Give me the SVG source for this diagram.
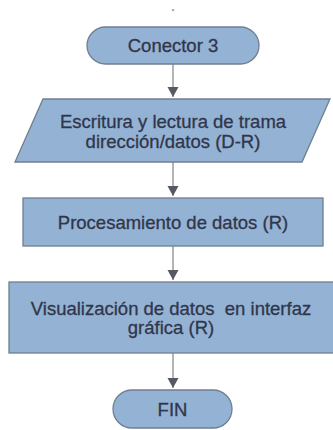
<svg xmlns="http://www.w3.org/2000/svg" width="333" height="430" viewBox="0 0 333 430">
<defs>
<marker id="ah" markerUnits="userSpaceOnUse" markerWidth="12" markerHeight="12" refX="10" refY="6" orient="auto">
<path d="M0,0.5 L10,6 L0,11.5 Z" fill="#555a60"/>
</marker>
<style>
.shape{fill:#94b2d4;stroke:#6f7f90;stroke-width:1.3}
.lbl{font-family:"Liberation Sans",Arial,sans-serif;font-size:18.5px;fill:#30364a;stroke:#30364a;stroke-width:0.3;text-anchor:middle}
.conn{stroke:#b4b4b4;stroke-width:2;fill:none}
</style>
</defs>
<rect width="333" height="430" fill="#ffffff"/>
<rect x="172" y="9" width="2.2" height="2.2" fill="#b0b0b0"/>
<g id="connectors">
<line class="conn" x1="173" y1="64" x2="173" y2="97" marker-end="url(#ah)"/>
<line class="conn" x1="173" y1="162" x2="173" y2="196" marker-end="url(#ah)"/>
<line class="conn" x1="173" y1="246" x2="173" y2="280" marker-end="url(#ah)"/>
<line class="conn" x1="173" y1="353" x2="173" y2="388" marker-end="url(#ah)"/>
</g>
<g id="conector3">
<rect class="shape" x="87" y="27" width="172" height="37" rx="18.5"/>
<text class="lbl" x="173" y="52">Conector 3</text>
</g>
<g id="escritura">
<polygon class="shape" points="43,99 330,99 302,162 15,162"/>
<text class="lbl" x="173" y="128">Escritura y lectura de trama</text>
<text class="lbl" x="173" y="148">dirección/datos (D-R)</text>
</g>
<g id="procesamiento">
<rect class="shape" x="23" y="198" width="300" height="48"/>
<text class="lbl" x="173" y="228.5">Procesamiento de datos (R)</text>
</g>
<g id="visualizacion">
<rect class="shape" x="9" y="282" width="330" height="71"/>
<text class="lbl" x="171" y="315" xml:space="preserve">Visualización de datos  en interfaz</text>
<text class="lbl" x="171" y="334">gráfica (R)</text>
</g>
<g id="fin">
<rect class="shape" x="113" y="390" width="119" height="38" rx="19"/>
<text class="lbl" x="172.5" y="416">FIN</text>
</g>
</svg>
